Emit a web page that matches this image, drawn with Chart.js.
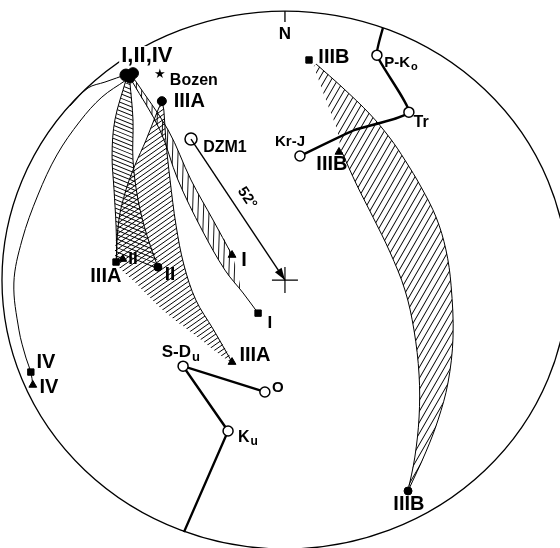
<!DOCTYPE html>
<html><head><meta charset="utf-8">
<script src="https://cdn.jsdelivr.net/npm/chart.js@4.4.0/dist/chart.umd.min.js"></script>
<style>html,body{margin:0;padding:0;background:#fff}#c{display:block}</style>
</head><body>
<canvas id="c" width="560" height="548"></canvas>
<script>
// Net coordinates: primitive circle radius 100, x towards E, y towards N
// ---- site directions ----
const meanInSitu = [[-56.2,76.2],[-53.7,76.9],[-54.8,75.1]];          // I, II, IV (in situ)
const circleSites = [[-43.5,66.5],[-44.9,4.8],[43.5,-78.4]];          // IIIA, II, IIIB
const squareSites = [[-9.5,-12.3],[-59.7,6.7],[-89.8,-34.2],[8.5,81.8]]; // I, IIIA, IV, IIIB
const triangleSites = [[-18.7,9.3],[-57.3,7.8],[-18.7,-30.5],[-89.1,-39.0],[19.1,47.6]]; // I, II, IIIA, IV, IIIB
// ---- APW path (poles) ----
const poleNames = ['P-Ko','Tr','Kr-J','S-Du','O','Ku'];
const poles = [[32.5,83.6],[43.8,62.4],[5.3,46.1],[-36.0,-32.0],[-7.1,-41.6],[-20.1,-56.1]];
const polePathNorth = [[34.6,93.7],[32.5,83.6],[43.8,62.4],[24.7,55.8],[5.3,46.1]];
const polePathSouth = [[-7.1,-41.6],[-36.0,-32.0],[-20.1,-56.1],[-35.7,-93.7]];
// ---- DZM1 and vertical ----
const dzm1 = [[-33.2,52.4]];
const verticalAxis = [[0,0]];
const dzmArrow = [[-33.2,52.4],[0,0]];
const northTick = [[0,100],[0,95.9]];
// ---- great-circle paths ----
const ivOuter = [[-55.5,76.6],[-63.6,73.6],[-69.6,71.4],[-76.0,64.7]];
const ivInner = [[-56.2,74.3],[-64.7,68.0],[-72.4,59.1],[-80.6,46.5],[-87.3,31.6],[-92.9,14.9],[-95.8,-1.1],[-94.0,-18.6],[-91.5,-29.0],[-89.8,-34.2],[-89.1,-39.0]];
const iLeft = [[-54.1,74.0],[-44.2,55.8],[-37.8,37.2],[-29.3,18.6],[-21.2,3.7],[-14.8,-4.8],[-9.5,-12.3]];
const iRight = [[-53.0,74.3],[-41.3,55.8],[-33.2,37.2],[-25.4,22.3],[-18.7,9.3]];
const iBand = [[-53.0,74.3],[-41.3,55.8],[-33.2,37.2],[-25.4,22.3],[-18.7,9.3],[-15.9,-3.0],[-21.2,3.7],[-29.3,18.6],[-37.8,37.2],[-44.2,55.8],[-54.1,74.0],[-53.0,74.3]];
const iiLeft = [[-56.2,74.3],[-60.1,59.5],[-61.1,46.5],[-60.4,33.5],[-59.7,20.4],[-59.4,6.7]];
const iiRight = [[-54.8,73.6],[-53.7,59.5],[-53.7,44.6],[-51.9,29.7],[-48.8,16.7],[-44.9,4.8]];
const iiLens = [[-56.2,74.3],[-60.1,59.5],[-61.1,46.5],[-60.4,33.5],[-59.7,20.4],[-59.4,6.7],[-57.3,7.8],[-44.9,4.8],[-48.8,16.7],[-51.9,29.7],[-53.7,44.6],[-53.7,59.5],[-54.8,73.6],[-56.2,74.3]];
const iiiaLeft = [[-43.5,66.5],[-45.2,62.4],[-49.1,52.0],[-53.0,42.7],[-56.2,33.5],[-58.7,22.3],[-59.7,6.7]];
const iiiaRight = [[-43.5,66.5],[-42.8,63.2],[-42.1,52.0],[-40.6,37.2],[-38.5,20.4],[-35.7,5.6],[-31.5,-7.4],[-25.4,-18.2],[-18.7,-30.5]];
const iiiaBand = [[-43.5,66.5],[-45.2,62.4],[-49.1,52.0],[-53.0,42.7],[-56.2,33.5],[-58.7,22.3],[-59.7,6.7],[-53.0,-0.7],[-43.1,-11.2],[-31.8,-20.4],[-18.7,-30.5],[-25.4,-18.2],[-31.5,-7.4],[-35.7,5.6],[-38.5,20.4],[-40.6,37.2],[-42.1,52.0],[-42.8,63.2],[-43.5,66.5]];
const iiibLeft = [[20.1,47.6],[25.4,35.3],[31.1,23.4],[37.1,10.4],[42.4,-3.7],[45.6,-18.6],[47.4,-35.3],[47.4,-50.9],[45.9,-65.8],[43.5,-78.4]];
const iiibRight = [[11.0,80.3],[20.5,71.4],[30.0,61.7],[37.1,52.8],[42.4,44.6],[48.1,34.6],[53.4,23.4],[56.9,11.2],[58.7,-1.9],[59.4,-21.2],[57.6,-38.3],[54.1,-52.0],[49.8,-63.9],[43.5,-78.4]];
const iiibBand = [[10.2,79.5],[14.5,66.9],[18.4,55.8],[20.1,47.6],[25.4,35.3],[31.1,23.4],[37.1,10.4],[42.4,-3.7],[45.6,-18.6],[47.4,-35.3],[47.4,-50.9],[45.9,-65.8],[43.5,-78.4],[49.8,-63.9],[54.1,-52.0],[57.6,-38.3],[59.4,-21.2],[58.7,-1.9],[56.9,11.2],[53.4,23.4],[48.1,34.6],[42.4,44.6],[37.1,52.8],[30.0,61.7],[20.5,71.4],[11.0,80.3],[10.2,79.5]];

// ---- text ----
const labels = [
 {t:'N', at:[0,91.4], size:17},
 {t:'I,II,IV', at:[-48.8,83.3], size:22, mask:true},
 {t:'\u2605', at:[-44.2,76.2], size:13, font:'"DejaVu Sans"'},
 {t:'Bozen', at:[-32.2,74.0], size:16},
 {t:'IIIA', at:[-33.8,66.5], size:20},
 {t:'DZM1', at:[-21.2,49.4], size:16},
 {t:'52\u00b0', at:[-13.4,30.5], size:15, along:true},
 {t:'I', at:[-14.5,7.1], size:20},
 {t:'I', at:[-5.3,-16.0], size:17},
 {t:'IIIA', at:[-63.3,1.5], size:20},
 {t:'II', at:[-53.7,7.8], size:17},
 {t:'II', at:[-40.6,1.9], size:19},
 {t:'IIIA', at:[-10.6,-27.9], size:20},
 {t:'IV', at:[-84.5,-30.5], size:20},
 {t:'IV', at:[-83.4,-40.1], size:20},
 {t:'IIIB', at:[17.3,82.9], size:20},
 {t:'P-K', sub:'o', at:[41.0,80.7], size:15},
 {t:'Tr', at:[48.1,58.4], size:16},
 {t:'Kr-J', at:[1.8,51.3], size:15},
 {t:'IIIB', at:[16.6,43.1], size:20},
 {t:'IIIB', at:[43.8,-83.6], size:20},
 {t:'S-D', sub:'u', at:[-36.8,-26.8], size:17},
 {t:'O', at:[-2.5,-40.1], size:15},
 {t:'K', sub:'u', at:[-13.1,-58.4], size:16}
];

const canvas = document.getElementById('c');
const ctx = canvas.getContext('2d');
function hatchPattern(angleDeg, spacing, width){
  const c = document.createElement('canvas'); c.width = 600; c.height = 600;
  const g = c.getContext('2d');
  g.translate(300,300); g.rotate(-angleDeg*Math.PI/180);
  g.strokeStyle = '#000'; g.lineWidth = width;
  g.beginPath();
  for (let t=-600; t<=600; t+=spacing){ g.moveTo(-700,t); g.lineTo(700,t); }
  g.stroke();
  return ctx.createPattern(c,'repeat');
}
const pts = a => a.map(([x,y]) => ({x,y}));
const line = (a,w=1,tension=0.35) => ({data:pts(a), showLine:true, borderColor:'#000', borderWidth:w, pointRadius:0, tension, fill:false});
const hatch = (a,pat) => ({data:pts(a), showLine:true, borderColor:'rgba(0,0,0,0)', borderWidth:0, pointRadius:0, tension:0.3, fill:'shape', backgroundColor:pat});

const FONT = '"Liberation Sans", Arial, Helvetica, sans-serif';
const netPlugin = {
  id:'net',
  beforeDatasetsDraw(chart){
    const {ctx, scales:{x,y}} = chart;
    const cx = x.getPixelForValue(0), cy = y.getPixelForValue(0);
    const rx = x.getPixelForValue(100)-cx, ry = cy-y.getPixelForValue(100);
    ctx.save(); ctx.beginPath(); ctx.ellipse(cx,cy,rx,ry,0,0,2*Math.PI);
    ctx.lineWidth = 1.3; ctx.strokeStyle = '#000'; ctx.stroke(); ctx.restore();
  },
  afterDatasetsDraw(chart){
    const {ctx, scales:{x,y}} = chart;
    const px = p => [x.getPixelForValue(p[0]), y.getPixelForValue(p[1])];
    const [a,b] = dzmArrow.map(px);
    const ang = Math.atan2(b[1]-a[1], b[0]-a[0]);
    ctx.save(); ctx.translate(b[0],b[1]); ctx.rotate(ang);
    ctx.beginPath(); ctx.moveTo(0,0); ctx.lineTo(-12,-4); ctx.lineTo(-12,4); ctx.closePath();
    ctx.fillStyle = '#000'; ctx.fill(); ctx.restore();
    for (const L of labels){
      const [lx,ly] = px(L.at);
      ctx.save();
      const f = `bold ${L.size}px ${L.font||FONT}`;
      ctx.font = f; ctx.fillStyle = '#000'; ctx.textBaseline = 'middle';
      const w1 = ctx.measureText(L.t).width;
      let w2 = 0, fs = `bold ${Math.round(L.size*0.75)}px ${FONT}`;
      if (L.sub){ ctx.font = fs; w2 = ctx.measureText(L.sub).width + 1; ctx.font = f; }
      const W = w1 + w2;
      ctx.translate(lx,ly);
      if (L.along) ctx.rotate(ang);
      if (L.mask){ ctx.fillStyle = '#fff'; ctx.fillRect(-W/2-2, -L.size*0.45, W+4, L.size*0.9); ctx.fillStyle = '#000'; }
      ctx.textAlign = 'left';
      ctx.fillText(L.t, -W/2, 0);
      if (L.sub){ ctx.font = fs; ctx.fillText(L.sub, -W/2 + w1 + 1, L.size*0.3); }
      ctx.restore();
    }
  }
};

new Chart(ctx, {
  type:'scatter',
  data:{datasets:[
    {data:pts(meanInSitu), pointStyle:'circle', pointRadius:[6,5.5,5], pointBackgroundColor:'#000', pointBorderColor:'#000', showLine:false},
    {data:pts(circleSites), pointStyle:'circle', pointRadius:[4.5,4,4], pointBackgroundColor:'#000', pointBorderColor:'#000', showLine:false},
    {data:pts(squareSites), pointStyle:'rect', pointRadius:4.5, pointBackgroundColor:'#000', pointBorderColor:'#000', showLine:false},
    {data:pts(triangleSites), pointStyle:'triangle', pointRadius:4.5, pointBackgroundColor:'#000', pointBorderColor:'#000', showLine:false},
    {data:pts(poles), pointStyle:'circle', pointRadius:5, pointBackgroundColor:'#fff', pointBorderColor:'#000', pointBorderWidth:1.5, showLine:false},
    {data:pts(dzm1), pointStyle:'circle', pointRadius:6, pointBackgroundColor:'rgba(0,0,0,0)', pointBorderColor:'#000', pointBorderWidth:1.5, showLine:false},
    {data:pts(verticalAxis), pointStyle:'cross', pointRadius:13, pointBorderColor:'#000', pointBorderWidth:1.2, showLine:false},
    line(polePathNorth, 2.4, 0.15),
    line(polePathSouth, 2.4, 0),
    line(dzmArrow, 1.4, 0),
    line(northTick, 1.3, 0),
    line(ivOuter), line(ivInner),
    line(iLeft), line(iRight),
    line(iiLeft), line(iiRight),
    line(iiiaLeft), line(iiiaRight),
    line(iiibLeft), line(iiibRight),
    hatch(iBand, hatchPattern(88, 5.5, 0.9)),
    hatch(iiLens, hatchPattern(-22, 4, 0.9)),
    hatch(iiiaBand, hatchPattern(35, 4.2, 0.9)),
    hatch(iiibBand, hatchPattern(60, 5.5, 0.9))
  ]},
  options:{
    responsive:false, animation:false, events:[],
    layout:{padding:0, autoPadding:false},
    plugins:{legend:{display:false}, tooltip:{enabled:false}},
    scales:{
      x:{type:'linear', min:-100.7, max:97.2, display:false},
      y:{type:'linear', min:-99.6, max:104.1, display:false}
    }
  },
  plugins:[netPlugin]
});
</script>
</body></html>
